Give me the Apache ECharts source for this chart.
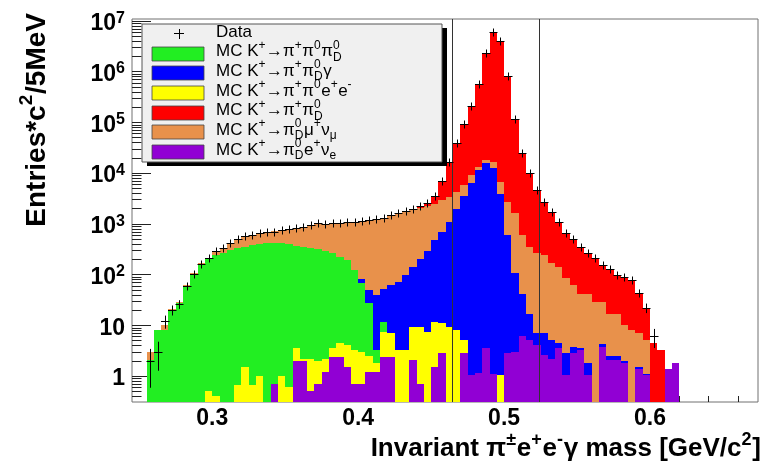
<!DOCTYPE html>
<html>
<head>
<meta charset="utf-8">
<script src="https://cdn.jsdelivr.net/npm/echarts@6/dist/echarts.min.js"></script>
<style>html,body{margin:0;padding:0;background:#fff}#c{width:774px;height:469px}</style>
</head>
<body>
<div id="c"></div>
<script>
// ---------------- data (5 MeV bins) ----------------
const binWidth = 0.005;
const binCenters = [0.2575,0.2625,0.2675,0.2725,0.2775,0.2825,0.2875,0.2925,0.2975,0.3025,
0.3075,0.3125,0.3175,0.3225,0.3275,0.3325,0.3375,0.3425,0.3475,0.3525,
0.3575,0.3625,0.3675,0.3725,0.3775,0.3825,0.3875,0.3925,0.3975,0.4025,
0.4075,0.4125,0.4175,0.4225,0.4275,0.4325,0.4375,0.4425,0.4475,0.4525,
0.4575,0.4625,0.4675,0.4725,0.4775,0.4825,0.4875,0.4925,0.4975,0.5025,
0.5075,0.5125,0.5175,0.5225,0.5275,0.5325,0.5375,0.5425,0.5475,0.5525,
0.5575,0.5625,0.5675,0.5725,0.5775,0.5825,0.5875,0.5925,0.5975,0.6025,
0.6075,0.6125,0.6175];

const dataCounts = [2,3,12,20,26,59,102,160,208,290,
330,420,490,570,600,650,700,700,750,790,
810,870,940,1010,1000,1020,1050,1070,1100,1150,
1190,1240,1300,1490,1630,1770,1960,2200,2600,3500,
6800,16600,38500,92000,209000,567000,2350000,5900000,4050000,810000,
114000,24400,9860,4620,2630,1730,1100,646,493,353,
269,208,154,126,98,88,78,44,22,6,
0,0,0];

// stacked MC, bottom to top
const mcKe3 = [0,0,0,0,0,0,0,0,0,0,
0,0,0,0,0,0,0,0.7,0,0,
2.0,2.0,0.5,0.7,1.2,2.4,2.4,1.5,0.7,0.7,
1.2,1.2,2.4,2.4,0,0,2.1,0.7,0,1.5,
2.8,0,0,2.8,1.05,1.15,3.5,1.1,0,2.8,
3.0,6.0,5.0,4.0,2.6,2.2,3.5,1.05,2.8,3.2,
1.05,0,3.8,2.1,2.1,1.8,0,1.4,1.05,0,
0,1.4,1.8];

const mcPiPi0ee = [0,0,0,0,0,0,0,0,0.5,0.4,
0,0,0.66,1.5,0.66,1.0,0,0,1.0,0.6,
1.5,0.2,1.7,1.3,1.0,1.1,2.0,2.5,2.5,2.3,
1.3,0.6,5.1,4.5,3.25,3.25,7.3,8.7,7.5,10.2,
8.1,9.4,8.1,2.3,0,0,0,0,1.05,0,
0,0,0,0,0,0,0,0,0,0,
0,0,0,0,0,0,0,0,0,0,
0,0,0];

const mcPiPi0Pi0 = [2.1,8,8,19,27,57,100,154,199,240,
270,303,327,351,374,391,410,423,409,391,
359,351,326,312,292,256,214,189,119,64,
24.5,1.5,4.2,0,0,0,0,0,0,0,
0,0,0,0,0,0,0,0,0,0,
0,0,0,0,0,0,0,0,0,0,
0,0,0,0,0,0,0,0,0,0,
0,0,0];

const mcPiPi0Gamma = [0,0,0,0,0,0,0,0,0,0,
0,0,0,0,0,0,0,0,0,0,
0,0,0,0,0,0,0,0,0,13,
23,36,41,55,69,95,133,191,283,463,
689,1091,1942,3445,6299,11399,15596,12399,3899,597,
103,36,12,3,4.3,2.8,1.0,1.75,1.0,0.3,
0.75,0,0.4,0.4,0.4,0.2,0,0.1,0.05,0,
0,0,0];

const mcKmu3 = [0.9,0,2,2,2,4,6,12,15,45,
65,117,162,207,235,258,280,286,340,393,
452,517,607,676,706,760,827,877,973,1060,
1140,1201,1247,1418,1548,1642,1738,1800,1910,2025,
2200,2300,2250,2350,2900,1900,2700,4200,2750,2100,
1504,558,338,253,233,161,137,81,58,38.5,
40,29,25,14.5,14.5,8,8,5.5,3.9,0,
0,0,0];

const mcPiPi0 = [0,0,0,0,0,0,0,0,0,0,
0,0,0,0,0,0,0,0,0,0,
0,0,0,0,0,0,0,0,0,0,
0,0,0,0,10,30,80,200,400,1000,
3600,13200,34300,86200,199800,553700,2331700,5883400,4043350,807300,
112390,23800,9505,4360,2390,1564,958,562,431,311,
227,179,125,109,81,78,70,37,17,4.5,
3.2,0,0];

const cutLines = [0.4645, 0.524];

const xTickLabels = [0.3, 0.4, 0.5, 0.6];
const xMinorTicks = [0.26,0.28,0.32,0.34,0.36,0.38,0.42,0.44,0.46,0.48,0.52,0.54,0.56,0.58,0.62,0.64,0.66];
const yTickValues = [1,10,100,1000,10000,100000,1000000,10000000];
const yMinorTicks = [0.4,0.5,0.6,0.7,0.8,0.9,
2,3,4,5,6,7,8,9, 20,30,40,50,60,70,80,90, 200,300,400,500,600,700,800,900,
2000,3000,4000,5000,6000,7000,8000,9000, 20000,30000,40000,50000,60000,70000,80000,90000,
200000,300000,400000,500000,600000,700000,800000,900000,
2000000,3000000,4000000,5000000,6000000,7000000,8000000,9000000];

// legend entries (LaTeX-like pieces)
const legendRows = [
  {color: null, parts: ['Data']},
  {color: '#22ee22', parts: ['MC K',{u:'+'},'\u2192\u03c0',{u:'+'},'\u03c0',{u:'0'},'\u03c0',{u:'0',d:'D'}]},
  {color: '#0000ff', parts: ['MC K',{u:'+'},'\u2192\u03c0',{u:'+'},'\u03c0',{u:'0',d:'D'},'\u03b3']},
  {color: '#ffff00', parts: ['MC K',{u:'+'},'\u2192\u03c0',{u:'+'},'\u03c0',{u:'0'},'e',{u:'+'},'e',{u:'-'}]},
  {color: '#ff0000', parts: ['MC K',{u:'+'},'\u2192\u03c0',{u:'+'},'\u03c0',{u:'0',d:'D'}]},
  {color: '#e8914b', parts: ['MC K',{u:'+'},'\u2192\u03c0',{u:'0',d:'D'},'\u03bc',{u:'+'},'\u03bd',{d:'\u03bc'}]},
  {color: '#9100d4', parts: ['MC K',{u:'+'},'\u2192\u03c0',{u:'0',d:'D'},'e',{u:'+'},'\u03bd',{d:'e'}]}
];
const xTitleParts = ['Invariant \u03c0',{u:'\u00b1'},'e',{u:'+'},'e',{u:'-'},'\u03b3 mass [GeV/c',{u:'2'},']'];
const yTitleParts = ['Entries*c',{u:'2'},'/5MeV'];

// ---------------- chart ----------------
const X_MIN = 0.245, X_MAX = 0.674, Y_MIN = 0.307, Y_MAX = 1.08e7;
const FONT = '"Liberation Sans", Arial, Helvetica, sans-serif';

const layers = [
  {name: 'MC K+\u2192\u03c00D e+\u03bde', values: mcKe3, color: '#9100d4'},
  {name: 'MC K+\u2192\u03c0+\u03c00e+e-', values: mcPiPi0ee, color: '#ffff00'},
  {name: 'MC K+\u2192\u03c0+\u03c00\u03c00D', values: mcPiPi0Pi0, color: '#22ee22'},
  {name: 'MC K+\u2192\u03c0+\u03c00D\u03b3', values: mcPiPi0Gamma, color: '#0000ff'},
  {name: 'MC K+\u2192\u03c00D\u03bc+\u03bd\u03bc', values: mcKmu3, color: '#e8914b'},
  {name: 'MC K+\u2192\u03c0+\u03c00D', values: mcPiPi0, color: '#ff0000'}
];
let running = binCenters.map(() => 0);
layers.forEach(l => {
  l.base = running.slice();
  running = running.map((v, i) => v + l.values[i]);
  l.top = running.slice();
});

function histSeries(l) {
  return {
    type: 'custom', name: l.name, z: 2, silent: true, clip: true,
    encode: {x: 0, y: 1},
    data: binCenters.map((c, i) => [c, l.top[i], l.base[i]]),
    renderItem: function (params, api) {
      const c = api.value(0), top = api.value(1), base = api.value(2);
      if (!(top > base) || !(top > Y_MIN)) return null;
      const cs = params.coordSys;
      const bottom = cs.y + cs.height;
      const x0 = Math.round(api.coord([c - binWidth / 2, 1])[0]);
      const x1 = Math.round(api.coord([c + binWidth / 2, 1])[0]);
      const yT = Math.round(api.coord([c, Math.min(top, Y_MAX)])[1]);
      const yB = base > Y_MIN ? Math.round(api.coord([c, base])[1]) : bottom;
      if (yB - yT <= 0) return null;
      return {type: 'rect', shape: {x: x0, y: yT, width: x1 - x0, height: yB - yT}, style: {fill: l.color}};
    }
  };
}

const tickItems = [];
xTickLabels.forEach(v => tickItems.push({ax: 'x', v: v, len: 11.5}));
xMinorTicks.forEach(v => tickItems.push({ax: 'x', v: v, len: 6}));
yTickValues.forEach(v => tickItems.push({ax: 'y', v: v, len: 19}));
yMinorTicks.forEach(v => tickItems.push({ax: 'y', v: v, len: 9.5}));

const tickSeries = {
  type: 'custom', z: 1, silent: true, clip: false,
  data: tickItems.map(t => t.ax === 'x' ? [t.v, 1] : [0.3, t.v]),
  renderItem: function (params, api) {
    const t = tickItems[params.dataIndex];
    const cs = params.coordSys;
    if (t.ax === 'x') {
      const x = Math.round(api.coord([t.v, 1])[0]) + 0.5;
      const b = cs.y + cs.height;
      return {type: 'line', shape: {x1: x, y1: b, x2: x, y2: b - t.len}, style: {stroke: '#222', lineWidth: 1}};
    }
    const y = Math.round(api.coord([0.3, t.v])[1]) + 0.5;
    return {type: 'line', shape: {x1: cs.x, y1: y, x2: cs.x + t.len, y2: y}, style: {stroke: '#222', lineWidth: 1}};
  }
};

const dataSeries = {
  type: 'custom', name: 'Data', z: 5, silent: true, clip: true,
  encode: {x: 0, y: 1},
  data: binCenters.map((c, i) => [c, dataCounts[i]]),
  renderItem: function (params, api) {
    const c = api.value(0), n = api.value(1);
    if (!(n > 0)) return null;
    const cs = params.coordSys;
    const bottom = cs.y + cs.height;
    const p = api.coord([c, n]);
    const xl = Math.round(api.coord([c - binWidth / 2, n])[0]);
    const xr = Math.round(api.coord([c + binWidth / 2, n])[0]);
    const e = Math.sqrt(n);
    const yUp = api.coord([c, n + e])[1];
    const yLo = (n - e) > Y_MIN ? api.coord([c, n - e])[1] : bottom;
    const px = Math.round(p[0]) + 0.5, py = Math.round(p[1]) + 0.5;
    const st = {stroke: '#000', lineWidth: 1};
    return {type: 'group', children: [
      {type: 'line', shape: {x1: Math.min(xl, px - 4), y1: py, x2: Math.max(xr, px + 4), y2: py}, style: st},
      {type: 'line', shape: {x1: px, y1: Math.min(yUp, py - 4), x2: px, y2: Math.max(yLo, py + 4)}, style: st}
    ]};
  }
};

const cutSeries = {
  type: 'custom', z: 4, silent: true, clip: true,
  data: cutLines.map(v => [v, 1]),
  renderItem: function (params, api) {
    const cs = params.coordSys;
    const x = Math.round(api.coord([api.value(0), 1])[0]) + 0.5;
    return {type: 'line', shape: {x1: x, y1: cs.y, x2: x, y2: cs.y + cs.height}, style: {stroke: '#333', lineWidth: 1}};
  }
};

// text layout helper for super/subscripts
const measCtx = document.createElement('canvas').getContext('2d');
function tw(t, size, weight) { measCtx.font = weight + ' ' + size + 'px ' + FONT; return measCtx.measureText(t).width; }
function tex(parts, size, weight) {
  const ss = Math.round(size * 0.68);
  const kids = []; let x = 0;
  const mk = (t, xx, yy, fs) => ({type: 'text', x: xx, y: yy, z: 100,
    style: {text: t, fontSize: fs, fontFamily: FONT, fontWeight: weight, fill: '#000', align: 'left', verticalAlign: 'middle'}});
  parts.forEach(p => {
    if (typeof p === 'string') { kids.push(mk(p, x, 0, size)); x += tw(p, size, weight); }
    else {
      let w = 0;
      if (p.u !== undefined) { kids.push(mk(p.u, x, -size * 0.36, ss)); w = Math.max(w, tw(p.u, ss, weight)); }
      if (p.d !== undefined) { kids.push(mk(p.d, x, size * 0.34, ss)); w = Math.max(w, tw(p.d, ss, weight)); }
      x += w + size * 0.03;
    }
  });
  return {kids: kids, width: x};
}

const graphics = [];
// y title
const yt = tex(yTitleParts, 28, 'bold');
graphics.push({type: 'group', x: 37, y: 13 + yt.width, rotation: Math.PI / 2, children: yt.kids});
// x title
const xt = tex(xTitleParts, 26, 'bold');
graphics.push({type: 'group', x: 761 - xt.width, y: 449, children: xt.kids});
// legend
graphics.push({type: 'rect', z: 90, shape: {x: 147, y: 28, width: 300, height: 138}, style: {fill: '#000'}});
graphics.push({type: 'rect', z: 91, shape: {x: 142, y: 24, width: 300, height: 138}, style: {fill: '#f0f0f0', stroke: '#555', lineWidth: 1}});
legendRows.forEach((r, i) => {
  const cy = 34 + 19.65 * i;
  if (r.color) {
    graphics.push({type: 'rect', z: 95, shape: {x: 152, y: Math.round(cy - 7), width: 52, height: 14},
      style: {fill: r.color, stroke: '#444', lineWidth: 0.8}});
  } else {
    graphics.push({type: 'line', z: 95, shape: {x1: 174, y1: 33.5, x2: 184, y2: 33.5}, style: {stroke: '#000', lineWidth: 1}});
    graphics.push({type: 'line', z: 95, shape: {x1: 179.5, y1: 29, x2: 179.5, y2: 39}, style: {stroke: '#000', lineWidth: 1}});
  }
  const t = tex(r.parts, 17, 'normal');
  graphics.push({type: 'group', x: 216, y: cy - 2, children: t.kids});
});

const chart = echarts.init(document.getElementById('c'), null, {renderer: 'canvas', width: 774, height: 469});
chart.setOption({
  animation: false,
  backgroundColor: '#fff',
  grid: {left: 132, right: 16, top: 19, bottom: 67, show: true, borderColor: '#707070', borderWidth: 1, backgroundColor: 'transparent'},
  xAxis: {
    type: 'value', min: X_MIN, max: X_MAX,
    axisLine: {show: false}, splitLine: {show: false}, axisTick: {show: false},
    axisLabel: {customValues: xTickLabels, formatter: v => v.toFixed(1), fontSize: 23, fontWeight: 'bold', fontFamily: FONT, color: '#000', margin: 5}
  },
  yAxis: {
    type: 'log', logBase: 10, min: Y_MIN, max: Y_MAX,
    axisLine: {show: false}, splitLine: {show: false}, axisTick: {show: false}, minorTick: {show: false},
    axisLabel: {
      customValues: yTickValues, margin: 7, padding: [6, 0, 0, 0],
      formatter: v => { const e = Math.round(Math.log10(v)); if (e === 0) return '{b|1}'; if (e === 1) return '{b|10}'; return '{b|10}{s|' + e + '}'; },
      rich: {
        b: {fontSize: 23, fontWeight: 'bold', fontFamily: FONT, color: '#000', lineHeight: 27},
        s: {fontSize: 16, fontWeight: 'bold', fontFamily: FONT, color: '#000', verticalAlign: 'top'}
      }
    }
  },
  series: [tickSeries].concat(layers.map(histSeries)).concat([cutSeries, dataSeries]),
  graphic: graphics
});
</script>
</body>
</html>
